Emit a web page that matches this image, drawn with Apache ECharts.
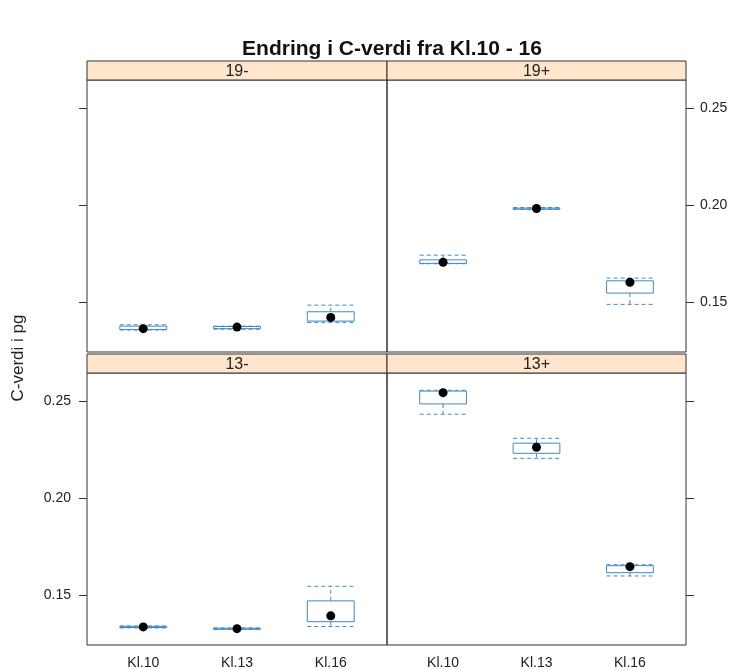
<!DOCTYPE html>
<html>
<head>
<meta charset="utf-8">
<script src="https://cdn.jsdelivr.net/npm/echarts@6/dist/echarts.min.js"></script>
<style>html,body{margin:0;padding:0;background:#fff;}#chart{width:734px;height:670px;}</style>
</head>
<body>
<div id="chart"></div>
<script>
// ---- data ----
const titleText = 'Endring i C-verdi fra Kl.10 - 16';
const yAxisName = 'C-verdi i pg';
const categories = ['Kl.10', 'Kl.13', 'Kl.16'];
const panelNames = ['19-', '19+', '13-', '13+'];
const yTicks = [0.15, 0.20, 0.25];
// per category: [min, q1, median, q3, max]
const stats19minus = [
  [0.1358, 0.1361, 0.1365, 0.1378, 0.1385],
  [0.1362, 0.1365, 0.1373, 0.1376, 0.1378],
  [0.1397, 0.1404, 0.1423, 0.1452, 0.1486]
];
const stats19plus = [
  [0.1699, 0.1701, 0.1706, 0.1719, 0.1743],
  [0.1978, 0.1980, 0.1983, 0.1985, 0.1988],
  [0.1490, 0.1548, 0.1604, 0.1611, 0.1625]
];
const stats13minus = [
  [0.1333, 0.1335, 0.1338, 0.1341, 0.1343],
  [0.1325, 0.1327, 0.1329, 0.1331, 0.1333],
  [0.1340, 0.1365, 0.1395, 0.1472, 0.1547]
];
const stats13plus = [
  [0.2432, 0.2485, 0.2543, 0.2551, 0.2555],
  [0.2205, 0.2231, 0.2262, 0.2283, 0.2308],
  [0.1600, 0.1617, 0.1648, 0.1653, 0.1658]
];
const panelStats = [stats19minus, stats19plus, stats13minus, stats13plus];

// ---- layout ----
const Y_MIN = 0.1245, Y_MAX = 0.2644;
const FONT = 'Liberation Sans, Arial, sans-serif';
const TXT = '#222';
const BOX = '#4189c0';
const grids = [
  {left: 87, top: 80, width: 300, height: 272},
  {left: 387, top: 80, width: 299, height: 272},
  {left: 87, top: 373, width: 300, height: 272},
  {left: 387, top: 373, width: 299, height: 272}
];
const stripH = 19;

function renderBox(params, api) {
  const x = api.value(0);
  const mn = api.value(1), q1 = api.value(2), md = api.value(3), q3 = api.value(4), mx = api.value(5);
  const w = api.size([0.5, 0])[0];
  const pMin = api.coord([x, mn]), pQ1 = api.coord([x, q1]), pMd = api.coord([x, md]);
  const pQ3 = api.coord([x, q3]), pMax = api.coord([x, mx]);
  const cx = pMd[0];
  const dash = {stroke: BOX, lineWidth: 1, lineDash: [4, 3]};
  return {
    type: 'group',
    children: [
      {type: 'line', shape: {x1: cx, y1: pQ3[1], x2: cx, y2: pMax[1]}, style: dash},
      {type: 'line', shape: {x1: cx, y1: pQ1[1], x2: cx, y2: pMin[1]}, style: dash},
      {type: 'line', shape: {x1: cx - w / 2, y1: pMax[1], x2: cx + w / 2, y2: pMax[1]}, style: dash},
      {type: 'line', shape: {x1: cx - w / 2, y1: pMin[1], x2: cx + w / 2, y2: pMin[1]}, style: dash},
      {type: 'rect', shape: {x: cx - w / 2, y: pQ3[1], width: w, height: Math.max(pQ1[1] - pQ3[1], 1)},
        style: {fill: 'none', stroke: BOX, lineWidth: 1}},
      {type: 'circle', shape: {cx: cx, cy: pMd[1], r: 4.5}, style: {fill: '#000'}}
    ]
  };
}

const xAxes = grids.map((g, i) => ({
  type: 'value', gridIndex: i, min: 0.4, max: 3.6,
  splitLine: {show: false}, axisLine: {show: false}, axisTick: {show: false},
  axisLabel: {
    show: i >= 2, customValues: [1, 2, 3], margin: 11,
    formatter: v => categories[Math.round(v) - 1],
    fontFamily: FONT, fontSize: 14, color: TXT
  }
}));

const yAxes = grids.map((g, i) => ({
  type: 'value', gridIndex: i, min: Y_MIN, max: Y_MAX,
  position: (i === 1 || i === 3) ? 'right' : 'left',
  splitLine: {show: false}, axisLine: {show: false},
  axisTick: {show: true, customValues: yTicks, length: 8, lineStyle: {color: '#333'}},
  axisLabel: {
    show: i === 1 || i === 2, customValues: yTicks,
    margin: (i === 1) ? 14 : 16,
    formatter: v => v.toFixed(2),
    fontFamily: FONT, fontSize: 14, color: TXT
  }
}));

const series = panelStats.map((st, i) => ({
  type: 'custom', xAxisIndex: i, yAxisIndex: i,
  renderItem: renderBox,
  encode: {x: 0, y: [1, 2, 3, 4, 5]},
  data: st.map((s, k) => [k + 1].concat(s)),
  clip: false
}));

const graphics = [];
grids.forEach((g, i) => {
  graphics.push({
    type: 'rect', z: 10,
    shape: {x: g.left, y: g.top - stripH, width: g.width, height: stripH},
    style: {fill: '#ffe5cc', stroke: '#333', lineWidth: 1}
  });
  graphics.push({
    type: 'text', z: 11,
    x: g.left + g.width / 2, y: g.top - stripH / 2 + 1,
    style: {text: panelNames[i], fontFamily: FONT, fontSize: 16, fill: TXT, align: 'center', verticalAlign: 'middle'}
  });
});
graphics.push({
  type: 'text', x: 18, y: 358, rotation: Math.PI / 2,
  style: {text: yAxisName, fontFamily: FONT, fontSize: 17, fill: TXT, align: 'center', verticalAlign: 'middle'}
});

const chart = echarts.init(document.getElementById('chart'), null, {renderer: 'canvas'});
chart.setOption({
  animation: false,
  backgroundColor: '#fff',
  title: {
    text: titleText, left: 387, top: 34, textAlign: 'center',
    textStyle: {fontFamily: FONT, fontWeight: 'bold', fontSize: 21, color: '#111'}
  },
  grid: grids.map(g => Object.assign({show: true, borderColor: '#333', borderWidth: 1, backgroundColor: 'transparent', containLabel: false}, g)),
  xAxis: xAxes,
  yAxis: yAxes,
  series: series,
  graphic: graphics
});
</script>
</body>
</html>
